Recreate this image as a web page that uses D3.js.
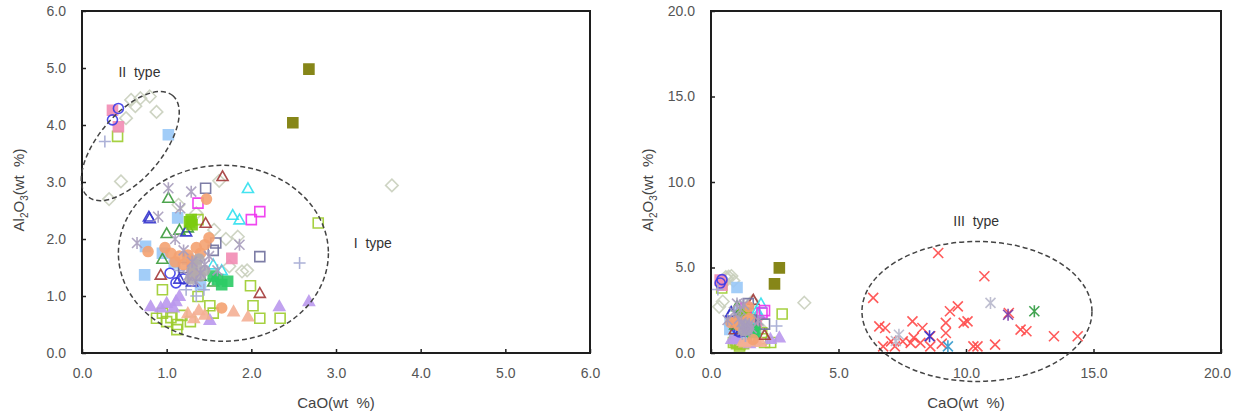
<!DOCTYPE html>
<html>
<head>
<meta charset="utf-8">
<script src="https://cdn.jsdelivr.net/npm/d3@7"></script>
<style>
  body { margin: 0; background: #fff; }
  text { font-family: "Liberation Sans", Arial, sans-serif; }
</style>
</head>
<body>
<div id="main"></div>
<script>
// ---- data (CaO, Al2O3 in wt %) ----
const oliveSq = [[2.68,4.98],[2.49,4.04]];
const paleDiamond = [[0.32,2.70],[0.46,3.01],[0.58,4.44],[0.69,4.47],[0.80,4.50],[0.88,4.23],[0.52,4.12],[0.63,4.33],
  [3.66,2.94],[1.84,2.04],[1.89,1.43],[1.74,1.52],[1.56,2.16],[1.14,2.60],[1.70,2.00],[1.95,1.45],[1.35,2.45],[1.62,3.02]];
const blueCircle = [[0.43,4.29],[0.36,4.09],[1.11,1.23],[1.04,1.40],[1.20,1.30]];
const pinkSq = [[0.36,4.26],[0.43,3.97],[1.77,1.66],[1.30,1.50]];
const limeOpenSq = [[0.42,3.80],[2.79,2.28],[0.95,1.11],[1.99,1.18],[2.02,0.83],[2.10,0.61],[2.34,0.61],[0.88,0.61],
  [1.00,0.55],[1.12,0.41],[1.13,0.50],[1.28,0.55],[1.51,0.83],[1.37,0.99],[1.37,2.34],[0.95,0.70],[1.05,0.62],[1.18,0.66],[1.55,0.70]];
const skySq = [[1.02,3.83],[0.74,1.37],[0.75,1.87],[1.13,2.37],[1.09,1.58],[0.95,1.75],[1.25,1.65],[1.40,1.20]];
const greyPlus = [[0.27,3.71],[2.57,1.58],[1.23,1.11],[1.44,1.11],[1.35,1.00],[1.15,1.45],[1.55,1.30]];
const redOpenTri = [[1.66,3.10],[1.46,2.28],[2.10,1.05],[0.93,1.37]];
const cyanOpenTri = [[1.96,2.89],[1.78,2.42],[1.86,2.34],[1.65,1.45],[1.55,1.55]];
const magentaOpenSq = [[1.37,2.63],[2.00,2.34],[2.10,2.48]];
const slateOpenSq = [[1.46,2.89],[2.10,1.69],[1.58,1.93],[1.55,1.80],[1.20,1.50]];
const orangeCircle = [[1.47,2.70],[0.78,1.78],[1.65,0.79],[1.05,1.75],[1.15,1.70],[1.25,1.72],[1.35,1.85],[1.45,1.90],
  [1.50,2.02],[1.20,1.55],[1.30,1.62],[1.40,1.75],[1.10,1.60],[1.32,1.40],[0.98,1.85]];
const salmonTri = [[1.79,0.73],[1.96,0.64],[1.32,0.61],[1.45,0.67],[1.25,0.70],[1.38,0.75]];
const lavenderTri = [[0.81,0.82],[1.00,0.88],[1.11,0.91],[2.33,0.82],[2.68,0.91],[1.51,0.58],[1.08,0.80],[0.93,0.80],[1.15,1.00]];
const greenOpenTri = [[1.02,2.72],[1.00,2.10],[1.15,2.16],[1.25,2.20],[1.40,1.35],[1.55,1.25],[0.95,1.65]];
const blueOpenTri = [[0.79,2.39],[0.80,2.36],[1.23,2.13],[1.15,1.30],[1.30,1.25]];
const limeSq = [[1.29,2.34],[1.30,2.25],[1.27,2.30]];
const emeraldSq = [[1.60,1.29],[1.72,1.26],[1.65,1.20],[1.55,1.35]];
const greyCircle = [[1.30,1.45],[1.35,1.55],[1.40,1.35],[1.28,1.30],[1.45,1.45],[1.38,1.65]];
const greyStar = [[0.65,1.93],[1.02,2.89],[1.29,2.83],[1.16,2.54],[1.86,1.90],[0.90,2.39],[1.40,1.40],[1.30,1.60],
  [1.50,1.70],[1.25,1.35],[1.45,1.55],[1.35,1.25],[1.60,1.45],[1.20,1.80],[1.10,2.00]];
// type III (only visible in the wide plot)
const redX = [[8.91,5.85],[10.72,4.49],[6.36,3.22],[6.60,1.56],[6.83,1.46],[7.90,1.85],[8.29,1.46],[8.60,0.98],
  [8.21,0.59],[7.83,0.59],[7.52,0.68],[7.06,0.68],[6.75,0.39],[7.21,0.39],[8.60,0.39],[9.21,1.76],[9.37,2.44],
  [9.68,2.73],[9.21,1.17],[9.91,1.76],[10.06,1.85],[10.29,0.39],[10.45,0.39],[11.14,0.49],[11.68,2.34],
  [12.14,1.37],[12.37,1.27],[13.45,0.98],[14.38,0.98],[7.95,0.90],[9.05,0.55]];
const paleStar = [[10.96,2.93],[7.37,1.07],[7.25,0.70]];
const purpleStar = [[11.65,2.24]];
const greenStar = [[12.68,2.44]];
const blueStar = [[8.57,0.98]];
const steelStar = [[9.29,0.39]];

const xTicksA = [0,1,2,3,4,5,6];
const yTicksA = [0,1,2,3,4,5,6];
const xTicksB = [0,5,10,15,20];
const yTicksB = [0,5,10,15,20];

// ---- styles for each series ----
const series = [
  {pts: paleDiamond, shape: "diamond", color: "#c9cfbd", filled: false},
  {pts: oliveSq, shape: "square", color: "#7a7a00", filled: true},
  {pts: limeOpenSq, shape: "square", color: "#9ccc2c", filled: false},
  {pts: lavenderTri, shape: "triangle", color: "#bb99ee", filled: true},
  {pts: salmonTri, shape: "triangle", color: "#f5b095", filled: true},
  {pts: skySq, shape: "square", color: "#99c8f8", filled: true},
  {pts: pinkSq, shape: "square", color: "#f28cb4", filled: true},
  {pts: blueCircle, shape: "circle", color: "#3a3ae8", filled: false},
  {pts: greyPlus, shape: "plus", color: "#a3a9d3", filled: false},
  {pts: redOpenTri, shape: "triangle", color: "#a33838", filled: false},
  {pts: cyanOpenTri, shape: "triangle", color: "#30e0ee", filled: false},
  {pts: magentaOpenSq, shape: "square", color: "#ee33ee", filled: false},
  {pts: slateOpenSq, shape: "square", color: "#6f6f9c", filled: false},
  {pts: greenOpenTri, shape: "triangle", color: "#3a9a3a", filled: false},
  {pts: blueOpenTri, shape: "triangle", color: "#3333cc", filled: false},
  {pts: limeSq, shape: "square", color: "#7ccc10", filled: true},
  {pts: emeraldSq, shape: "square", color: "#2ccc66", filled: true},
  {pts: orangeCircle, shape: "circle", color: "#f4a272", filled: true},
  {pts: greyCircle, shape: "circle", color: "#b0aab0", filled: true},
  {pts: greyStar, shape: "star", color: "#a79cbc", filled: false},
  {pts: redX, shape: "x", color: "#ff4848", filled: false},
  {pts: paleStar, shape: "star", color: "#b8b8cc", filled: false},
  {pts: purpleStar, shape: "star", color: "#7a3aa8", filled: false},
  {pts: greenStar, shape: "star", color: "#2e9a3e", filled: false},
  {pts: blueStar, shape: "star", color: "#2f2fd0", filled: false},
  {pts: steelStar, shape: "star", color: "#3399cc", filled: false}
];

function markerPath(shape, s) {
  switch (shape) {
    case "square": return `M${-s},${-s}h${2*s}v${2*s}h${-2*s}Z`;
    case "circle": return `M${s},0A${s},${s} 0 1,1 ${-s},0A${s},${s} 0 1,1 ${s},0Z`;
    case "triangle": return `M0,${-s*1.1}L${s*1.1},${s*0.85}L${-s*1.1},${s*0.85}Z`;
    case "diamond": return `M0,${-s*1.25}L${s*1.25},0L0,${s*1.25}L${-s*1.25},0Z`;
    case "plus": return `M${-s*1.2},0h${2.4*s}M0,${-s*1.2}v${2.4*s}`;
    case "x": return `M${-s},${-s}L${s},${s}M${-s},${s}L${s},${-s}`;
    case "star": return `M${-s},${-s}L${s},${s}M${-s},${s}L${s},${-s}M0,${-s*1.2}v${2.4*s}`;
  }
}

const svg = d3.select("#main").append("svg")
  .attr("width", 1233).attr("height", 415);

function drawPlot(opt) {
  const x = d3.scaleLinear().domain(opt.xDomain).range([opt.left, opt.right]);
  const y = d3.scaleLinear().domain(opt.yDomain).range([353, 11]);
  const g = svg.append("g");

  // axes (ticks inward)
  const xAxisG = g.append("g")
    .attr("transform", "translate(0,353)")
    .call(d3.axisBottom(x).tickValues(opt.xTicks).tickFormat(d3.format(".1f")).tickSizeInner(-4).tickSizeOuter(0).tickPadding(15))
    .call(a => a.select(".domain").remove());
  g.append("g")
    .attr("transform", `translate(${opt.left},0)`)
    .call(d3.axisLeft(y).tickValues(opt.yTicks).tickFormat(d3.format(".1f")).tickSizeInner(-4).tickSizeOuter(0).tickPadding(16))
    .call(a => a.select(".domain").remove());
  g.selectAll(".tick line").attr("stroke", "#222").attr("stroke-width", 1.5);
  g.selectAll(".tick text").attr("fill", "#555").style("font-size", "14px")
    .style("font-family", "'Liberation Sans', Arial, sans-serif");
  // keep the last x label inside the window
  if (opt.lastShift) {
    xAxisG.selectAll(".tick text").filter((d, i, n) => i === n.length - 1).attr("dx", opt.lastShift);
  }

  g.append("rect")
    .attr("x", opt.left).attr("y", 11)
    .attr("width", opt.right - opt.left).attr("height", 342)
    .attr("fill", "none").attr("stroke", "#1e1e1e").attr("stroke-width", 2);

  // points
  series.forEach(sr => {
    const pts = sr.pts.filter(p => p[0] <= opt.xDomain[1]);
    g.append("g").selectAll("path")
      .data(pts)
      .enter().append("path")
      .attr("transform", d => `translate(${x(d[0])},${y(d[1])})`)
      .attr("d", markerPath(sr.shape, 5))
      .attr("fill", sr.filled ? sr.color : "none")
      .attr("stroke", sr.color)
      .attr("stroke-width", 1.6)
      .attr("opacity", 0.9);
  });

  // dashed ellipses
  opt.ellipses.forEach(e => {
    g.append("ellipse")
      .attr("transform", `translate(${x(e.cx)},${y(e.cy)}) rotate(${e.rot || 0})`)
      .attr("rx", e.rx).attr("ry", e.ry)
      .attr("fill", "none").attr("stroke", "#444")
      .attr("stroke-width", 1.5).attr("stroke-dasharray", "5,3");
  });
  opt.labels.forEach(l => {
    g.append("text")
      .attr("x", x(l.x)).attr("y", y(l.y))
      .attr("dy", "0.35em")
      .style("white-space", "pre")
      .style("font-size", "14px")
      .attr("fill", "#333")
      .text(l.text);
  });

  // axis titles
  g.append("text")
    .attr("x", (opt.left + opt.right) / 2).attr("y", 403)
    .attr("dy", "0.35em").attr("text-anchor", "middle")
    .style("font-size", "15px").attr("fill", "#444")
    .style("white-space", "pre")
    .text("CaO(wt  %)");
  const yt = g.append("text")
    .attr("transform", `translate(${opt.left - 63},190) rotate(-90)`)
    .attr("dy", "0.35em").attr("text-anchor", "middle")
    .style("font-size", "15px").attr("fill", "#444")
    .style("white-space", "pre");
  yt.append("tspan").text("Al");
  yt.append("tspan").attr("dy", "4").style("font-size", "10px").text("2");
  yt.append("tspan").attr("dy", "-4").text("O");
  yt.append("tspan").attr("dy", "4").style("font-size", "10px").text("3");
  yt.append("tspan").attr("dy", "-4").text("(wt  %)");
}

drawPlot({
  left: 82, right: 590, xDomain: [0, 6], yDomain: [0, 6],
  xTicks: xTicksA, yTicks: yTicksA,
  ellipses: [
    {cx: 0.57, cy: 3.63, rx: 66, ry: 32, rot: -50},
    {cx: 1.67, cy: 1.75, rx: 105, ry: 88}
  ],
  labels: [
    {x: 0.43, y: 4.93, text: "II  type"},
    {x: 3.21, y: 1.93, text: "I  type"}
  ]
});

drawPlot({
  left: 711, right: 1221, xDomain: [0, 20], yDomain: [0, 20],
  xTicks: xTicksB, yTicks: yTicksB, lastShift: -4,
  ellipses: [
    {cx: 10.43, cy: 2.43, rx: 115, ry: 70}
  ],
  labels: [
    {x: 9.5, y: 7.7, text: "III  type"}
  ]
});
</script>
</body>
</html>
